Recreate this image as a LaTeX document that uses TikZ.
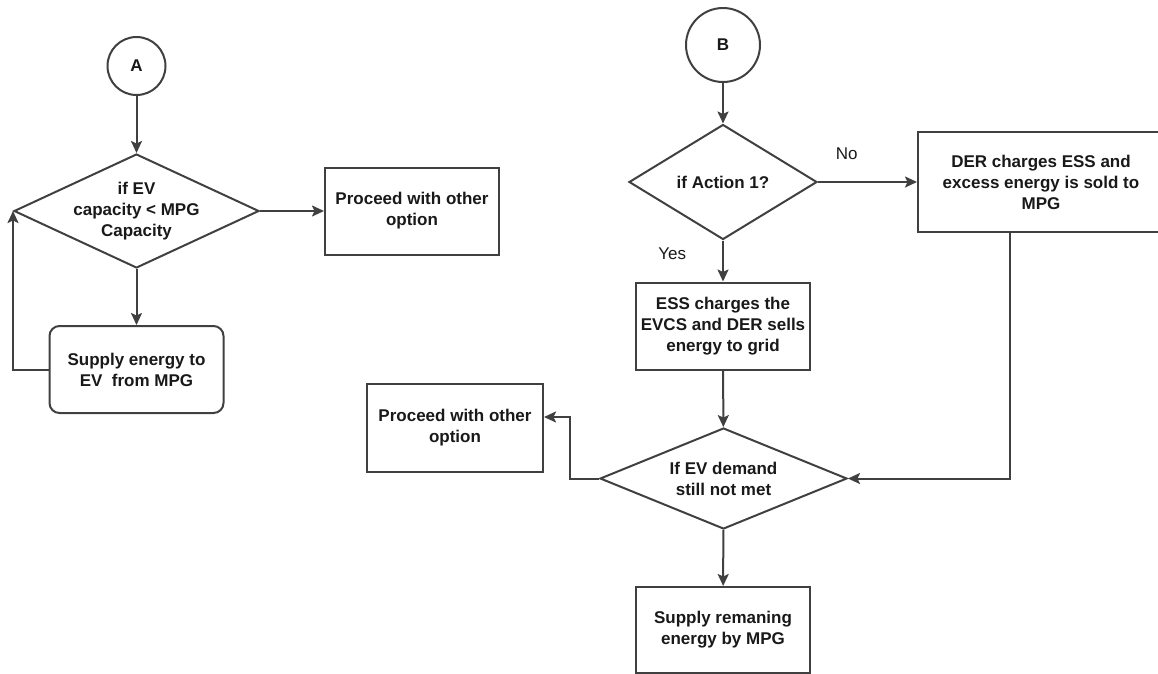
\documentclass[tikz,border=0pt]{standalone}
\usepackage{fontspec}
\setmainfont{Liberation Sans}
\usetikzlibrary{shapes.geometric,arrows.meta}

\begin{document}
\begin{tikzpicture}[
    x=1pt, y=-1pt,
    every node/.style={draw=black!75, line width=2pt, text=black!90, align=center, font=\fontsize{17}{21}\selectfont\bfseries},
    startnode/.style={circle, minimum size=58pt, inner sep=0pt},
    procbox/.style={rectangle, minimum width=174pt, minimum height=87pt, inner sep=0pt},
    roundbox/.style={procbox, rounded corners=10pt},
    decision/.style={diamond, aspect=2.15, inner sep=0pt},
    lbl/.style={draw=none, inner sep=0pt, font=\fontsize{17}{21}\selectfont},
    connector/.style={draw=black!75, line width=2pt, -{Stealth[length=12pt, width=11pt, inset=2.5pt]}}
]
\useasboundingbox (0,0) rectangle (1158,673);

\node[startnode] (A) at (136.5,66) {A};
\node[decision, minimum width=245pt, minimum height=114pt, inner ysep=-3pt] (condA) at (136.5,211) {if EV\\capacity < MPG\\Capacity};
\node[procbox] (procA) at (412,211) {Proceed with other\\option};
\node[roundbox] (supplyA) at (136.5,369.5) {Supply energy to\\EV\ \ from MPG};

\node[startnode, minimum size=74pt] (B) at (723,45) {B};
\node[decision, minimum width=188pt, minimum height=115pt] (actB) at (723,182) {if Action 1?};
\node[procbox, minimum width=246pt, minimum height=100pt] (derB) at (1041,182) {DER charges ESS and\\excess energy is sold to\\MPG};
\node[procbox] (essB) at (723,326) {ESS charges the\\EVCS and DER sells\\energy to grid};
\node[decision, minimum width=247pt, minimum height=101pt] (demB) at (723.5,478.5) {If EV demand\\still not met};
\node[procbox, minimum width=176pt, minimum height=88pt] (procB) at (455,428) {Proceed with other\\option};
\node[procbox, minimum height=86pt] (remB) at (723,630) {Supply remaning\\energy by MPG};

\draw[connector] (A) -- (condA);
\draw[connector] (condA) -- (procA);
\draw[connector] (condA) -- (supplyA);
\draw[connector] (supplyA.west) -| (condA.west);

\draw[connector] (B) -- (actB);
\draw[connector] (actB) -- node[lbl, pos=0.29, above=21pt] {No} (derB);
\draw[connector] (actB) -- node[lbl, pos=0.32, left=36pt] {Yes} (essB);
\draw[connector] (essB) -- (demB);
\draw[connector] ([xshift=-31pt]derB.south) |- (demB.east);
\draw[connector] (demB.west) -- ++(-29,0) |- ([yshift=11pt]procB.east);
\draw[connector] (demB) -- (remB);
\end{tikzpicture}
\end{document}
